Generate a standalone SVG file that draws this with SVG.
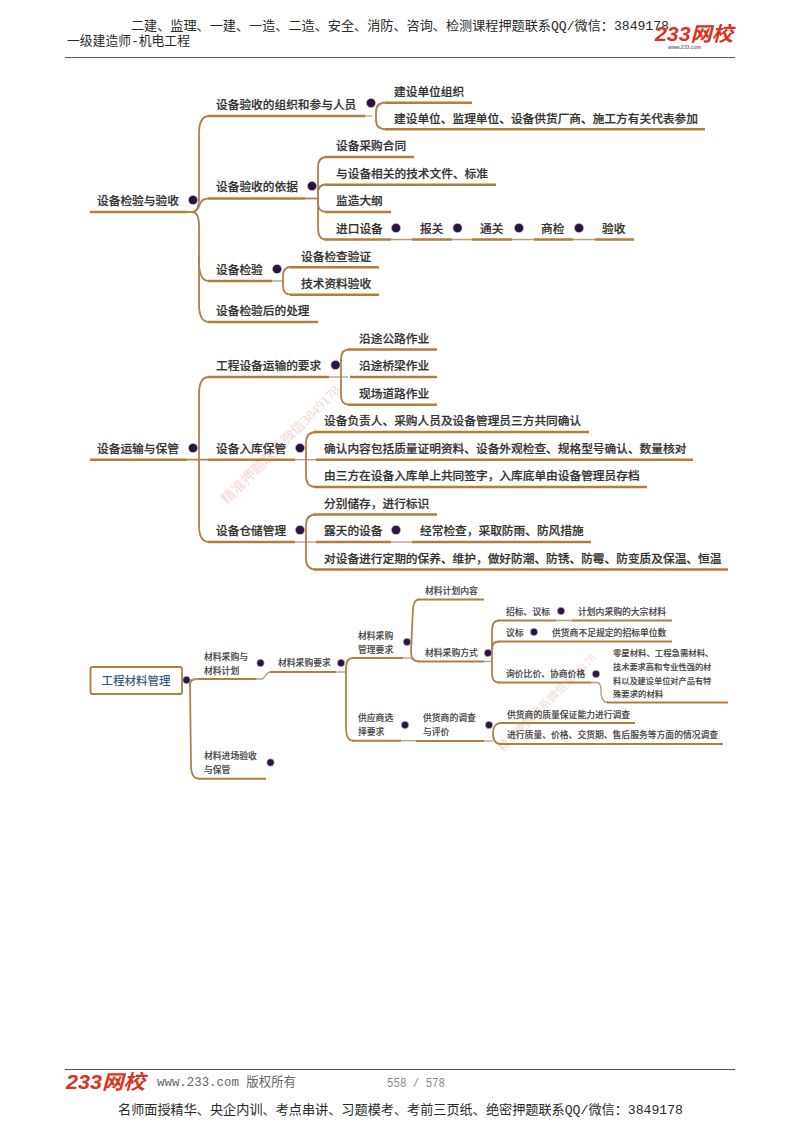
<svg xmlns="http://www.w3.org/2000/svg" width="800" height="1132" viewBox="0 0 800 1132">
<style>
text{font-family:"Noto Sans CJK SC","Liberation Sans",sans-serif;fill:#333}
.a text,text.a{font-size:11.7px;font-weight:500;stroke:#333;stroke-width:.22}
.s text,text.s{font-size:8.8px;font-weight:500;fill:#444;stroke:#444;stroke-width:.12}
.u{stroke:#b07f3e;stroke-width:2.6;fill:none}
.t{stroke:#b79a7c;stroke-width:1.3;fill:none}
.c{stroke:#ab8152;stroke-width:1.8;fill:none}
.us{stroke:#b07f3e;stroke-width:1.9;fill:none}
circle{fill:#2a1540;stroke:#c9c0cf;stroke-width:.6}
.a circle{r:4.6px}
.s circle{r:3.7px}
.hd{font-family:"Liberation Mono","Noto Sans CJK SC",monospace;font-size:13px;fill:#2a2a2a}
.wm{font-family:"Liberation Serif","Noto Sans CJK SC",serif;fill:#f3d9d4}
.logo{font-family:"Liberation Sans","Noto Sans CJK SC",sans-serif;font-weight:700;font-style:italic;font-size:20px;fill:#d8351f}
</style>
<rect width="800" height="1132" fill="#ffffff"/>

<g id="watermarks">
<text class="wm" font-size="14" transform="translate(227 505) rotate(-45)">精准押题联系微信3849178</text>
<text class="wm" font-size="11.5" transform="translate(503 752) rotate(-45)">精准押题联系微信3849178</text>
</g>

<g id="header">
<text class="hd" x="131" y="30" textLength="538" lengthAdjust="spacingAndGlyphs">二建、监理、一建、一造、二造、安全、消防、咨询、检测课程押题联系QQ/微信：3849178</text>
<text class="hd" x="67" y="45" textLength="123" lengthAdjust="spacingAndGlyphs">一级建造师-机电工程</text>
<line x1="65" y1="57.5" x2="735" y2="57.5" stroke="#555" stroke-width="1.2"/>
<text class="logo" x="655" y="41" textLength="78" lengthAdjust="spacingAndGlyphs">233网校</text>
<text x="668" y="49" font-size="5" font-style="italic" font-weight="700" style="fill:#777;font-family:'Liberation Sans',sans-serif">www.233.com</text>
</g>

<g id="connectors">
<path class="c" d="M187 212H192C197 212 199 207 199 198V134C199 122 202 116 209 116"/>
<path class="c" d="M187 212H192C197 212 199 207 200 204C201 201 203 198.500 209 198.500"/>
<path class="c" d="M192 212C197 212 199 217 199 226V262C199 274 202 281 209 281"/>
<path class="c" d="M199 255V304C199 316 202 322 209 322"/>
<path class="t" d="M365 116H372"/>
<path class="c" d="M386 102.500C379 102.500 376 106 376 112V120C376 126 379 129.300 386 129.300"/>
<path class="c" d="M305 198.500H318"/>
<path class="c" d="M326 157C320 157 318 161 318 168V228C318 235 320 239.500 326 239.500"/>
<path class="c" d="M326 184.500C320 184.500 318 188 318 193V203C318 208 320 212 326 212"/>
<path class="t" d="M391 239.500H412M452 239.500H472M512 239.500H534M573 239.500H595"/>
<path class="t" d="M272 281H283"/>
<path class="c" d="M291 267C285 267 283 271 283 276V286C283 291 285 294.700 291 294.700"/>

<path class="c" d="M187 459.700H199M199 459.700H208"/>
<path class="c" d="M209 377C202 377 199 383 199 394V525C199 536 202 542 209 542"/>
<path class="t" d="M329 377H348"/>
<path class="c" d="M349 349.500C343 349.500 341 353 341 359V395C341 401 343 404.700 349 404.700"/>
<path class="t" d="M295 459.700H316"/>
<path class="c" d="M316 432C309 432 306 436 306 443V476C306 483 309 487 316 487"/>
<path class="t" d="M295 542H316"/>
<path class="c" d="M316 514.500C309 514.500 306 518 306 525V559C306 566 309 569.500 316 569.500"/>
<path class="t" d="M391 542H412"/>

<path class="c" d="M182 680H190"/>
<path class="c" d="M198 679C193 679 190 680 190 684L191 765C191 774 194 778.700 199 778.700"/>
<path class="t" d="M190 680C193 679 195 679 198 679"/>
<path class="t" d="M256 679H262C265 679 265 672 271 672"/>
<path class="t" d="M336 672H346"/>
<path class="c" d="M353 658C348 658 346 662 346 668V727C346 736 348 740.700 353 740.700"/>
<path class="t" d="M403 658H412"/>
<path class="c" d="M419 599.500C415 599.500 414 603 413 608L411 652C411 658 414 661.500 419 661.500"/>
<path class="t" d="M484 661.500H492"/>
<path class="c" d="M499 620.500C494 620.500 492 624 492 630V674C492 679 494 682.500 499 682.500"/>
<path class="c" d="M499 641.500C495 641.500 492 644 492 649"/>
<path class="t" d="M556 620.500H572M591 682.500H597C600 682.500 601 686 601 691C601 698 603 702.500 608 702.500"/>
<path class="t" d="M401 740.700H416"/>
<path class="t" d="M484 741H493"/>
<path class="c" d="M501 723C496 723 493 727 493 733C493 740 496 744 501 744"/>
</g>

<g id="s1" class="a">
<g id="n1"><text x="97" y="205">设备检验与验收</text><line class="u" x1="90" y1="212" x2="187" y2="212"/><circle cx="193" cy="200" r="4.600"/></g>
<g id="n2"><text x="216" y="108.500">设备验收的组织和参与人员</text><line class="u" x1="208" y1="116" x2="365" y2="116"/><circle cx="371" cy="103" r="4.600"/></g>
<g id="n3"><text x="394" y="95.500">建设单位组织</text><line class="u" x1="385" y1="102.700" x2="472" y2="102.700"/></g>
<g id="n4"><text x="394" y="123">建设单位、监理单位、设备供货厂商、施工方有关代表参加</text><line class="u" x1="385" y1="129.300" x2="705" y2="129.300"/></g>
<g id="n5"><text x="216" y="191">设备验收的依据</text><line class="u" x1="208" y1="198.500" x2="305" y2="198.500"/><circle cx="312" cy="186" r="4.600"/></g>
<g id="n6"><text x="336" y="150">设备采购合同</text><line class="u" x1="325" y1="157" x2="414" y2="157"/></g>
<g id="n7"><text x="336" y="177.500">与设备相关的技术文件、标准</text><line class="u" x1="325" y1="184.700" x2="496" y2="184.700"/></g>
<g id="n8"><text x="336" y="205">监造大纲</text><line class="u" x1="325" y1="212" x2="391" y2="212"/></g>
<g id="n9"><text x="336" y="232.500">进口设备</text><line class="u" x1="325" y1="239.500" x2="391" y2="239.500"/><circle cx="396" cy="228" r="4.600"/></g>
<g id="n10"><text x="420" y="232.500">报关</text><line class="u" x1="412" y1="239.500" x2="452" y2="239.500"/><circle cx="457.500" cy="228" r="4.600"/></g>
<g id="n11"><text x="480" y="232.500">通关</text><line class="u" x1="472" y1="239.500" x2="512" y2="239.500"/><circle cx="519" cy="228" r="4.600"/></g>
<g id="n12"><text x="541" y="232.500">商检</text><line class="u" x1="534" y1="239.500" x2="573" y2="239.500"/><circle cx="579" cy="228" r="4.600"/></g>
<g id="n13"><text x="602" y="232.500">验收</text><line class="u" x1="595" y1="239.500" x2="634" y2="239.500"/></g>
<g id="n14"><text x="216" y="274">设备检验</text><line class="u" x1="208" y1="281" x2="272" y2="281"/><circle cx="277" cy="269" r="4.600"/></g>
<g id="n15"><text x="301" y="260.500">设备检查验证</text><line class="u" x1="290" y1="267.300" x2="379" y2="267.300"/></g>
<g id="n16"><text x="301" y="287.500">技术资料验收</text><line class="u" x1="290" y1="294.700" x2="379" y2="294.700"/></g>
<g id="n17"><text x="216" y="315">设备检验后的处理</text><line class="u" x1="208" y1="322" x2="318" y2="322"/></g>
</g>

<g id="s2" class="a">
<g id="n18"><text x="97" y="452.500">设备运输与保管</text><line class="u" x1="90" y1="459.700" x2="187" y2="459.700"/><circle cx="193" cy="448" r="4.600"/></g>
<g id="n19"><text x="216" y="370">工程设备运输的要求</text><line class="u" x1="208" y1="377" x2="329" y2="377"/><circle cx="335.500" cy="365" r="4.600"/></g>
<g id="n20"><text x="359" y="342.500">沿途公路作业</text><line class="u" x1="348" y1="349.500" x2="437" y2="349.500"/></g>
<g id="n21"><text x="359" y="370">沿途桥梁作业</text><line class="u" x1="350" y1="377" x2="437" y2="377"/></g>
<g id="n22"><text x="359" y="397.500">现场道路作业</text><line class="u" x1="348" y1="404.700" x2="437" y2="404.700"/></g>
<g id="n23"><text x="216" y="452.500">设备入库保管</text><line class="u" x1="208" y1="459.700" x2="295" y2="459.700"/><circle cx="300" cy="448" r="4.600"/></g>
<g id="n24"><text x="324" y="425">设备负责人、采购人员及设备管理员三方共同确认</text><line class="u" x1="314" y1="432" x2="589" y2="432"/></g>
<g id="n25"><text x="324" y="452.500">确认内容包括质量证明资料、设备外观检查、规格型号确认、数量核对</text><line class="u" x1="316" y1="459.700" x2="693" y2="459.700"/></g>
<g id="n26"><text x="324" y="480">由三方在设备入库单上共同签字，入库底单由设备管理员存档</text><line class="u" x1="314" y1="487" x2="647" y2="487"/></g>
<g id="n27"><text x="216" y="535">设备仓储管理</text><line class="u" x1="208" y1="542" x2="295" y2="542"/><circle cx="300" cy="530" r="4.600"/></g>
<g id="n28"><text x="324" y="507.500">分别储存，进行标识</text><line class="u" x1="314" y1="514.500" x2="437" y2="514.500"/></g>
<g id="n29"><text x="324" y="535">露天的设备</text><line class="u" x1="316" y1="542" x2="391" y2="542"/><circle cx="396" cy="530" r="4.600"/></g>
<g id="n30"><text x="420" y="535">经常检查，采取防雨、防风措施</text><line class="u" x1="412" y1="542" x2="591" y2="542"/></g>
<g id="n31"><text x="324" y="562.500">对设备进行定期的保养、维护，做好防潮、防锈、防霉、防变质及保温、恒温</text><line class="u" x1="314" y1="569.500" x2="728" y2="569.500"/></g>
</g>

<g id="s3" class="s">
<g id="n32"><rect x="90.500" y="667" width="91.500" height="27" rx="2" fill="#fff" stroke="#a98048" stroke-width="1.800"/><text x="136" y="685" text-anchor="middle" style="font-size:11.500px;fill:#3e5a86;stroke:none">工程材料管理</text><circle cx="186.500" cy="680" r="3.700"/></g>
<g id="n33"><text x="204" y="660">材料采购与</text><text x="204" y="674">材料计划</text><line class="us" x1="198" y1="679" x2="256" y2="679"/><circle cx="260.500" cy="663" r="3.700"/></g>
<g id="n34"><text x="278" y="666">材料采购要求</text><line class="us" x1="270" y1="672" x2="336" y2="672"/><circle cx="341" cy="663" r="3.700"/></g>
<g id="n35"><text x="204" y="759">材料进场验收</text><text x="204" y="773">与保管</text><line class="us" x1="198" y1="778.700" x2="266" y2="778.700"/><circle cx="270.500" cy="762.500" r="3.700"/></g>
<g id="n36"><text x="358" y="639">材料采购</text><text x="358" y="653">管理要求</text><line class="us" x1="352" y1="658" x2="403" y2="658"/><circle cx="407" cy="642" r="3.700"/></g>
<g id="n37"><text x="358" y="721">供应商选</text><text x="358" y="735">择要求</text><line class="us" x1="352" y1="740.700" x2="401" y2="740.700"/><circle cx="405" cy="725" r="3.700"/></g>
<g id="n38"><text x="425" y="594">材料计划内容</text><line class="us" x1="418" y1="599.500" x2="484" y2="599.500"/></g>
<g id="n39"><text x="425" y="655.500">材料采购方式</text><line class="us" x1="418" y1="661.500" x2="484" y2="661.500"/><circle cx="488" cy="653" r="3.700"/></g>
<g id="n40"><text x="506" y="615">招标、议标</text><line class="us" x1="498" y1="620.500" x2="556" y2="620.500"/><circle cx="561" cy="611" r="3.700"/></g>
<g id="n41"><text x="578" y="615">计划内采购的大宗材料</text><line class="us" x1="572" y1="620.500" x2="672" y2="620.500"/></g>
<g id="n42"><text x="506" y="636">议标</text><line class="us" x1="498" y1="641.500" x2="546" y2="641.500"/><circle cx="534" cy="632" r="3.700"/></g>
<g id="n43"><text x="552" y="636">供货商不足规定的招标单位数</text><line class="us" x1="546" y1="641.500" x2="672" y2="641.500"/></g>
<g id="n44"><text x="506" y="677">询价比价、协商价格</text><line class="us" x1="498" y1="682.500" x2="591" y2="682.500"/><circle cx="596" cy="674" r="3.700"/></g>
<g id="n45"><text x="613" y="656" style="font-size:8.400px">零星材料、工程急需材料、</text><text x="613" y="670" style="font-size:8.200px">技术要求高和专业性强的材</text><text x="613" y="684" style="font-size:8.200px">料以及建设单位对产品有特</text><text x="613" y="697" style="font-size:8.400px">殊要求的材料</text><line class="us" x1="607" y1="702.500" x2="728" y2="702.500"/></g>
<g id="n46"><text x="423" y="721">供货商的调查</text><text x="423" y="735">与评价</text><line class="us" x1="416" y1="741" x2="484" y2="741"/><circle cx="489" cy="725" r="3.700"/></g>
<g id="n47"><text x="507" y="718">供货商的质量保证能力进行调查</text><line class="us" x1="500" y1="723" x2="635" y2="723"/></g>
<g id="n48"><text x="507" y="738">进行质量、价格、交货期、售后服务等方面的情况调查</text><line class="us" x1="500" y1="744" x2="723" y2="744"/></g>
</g>

<g id="footer">
<line x1="65" y1="1069.500" x2="735" y2="1069.500" stroke="#555" stroke-width="1.200"/>
<text class="logo" x="66" y="1089" textLength="79" lengthAdjust="spacingAndGlyphs">233网校</text>
<text class="hd" x="157" y="1086" textLength="139" lengthAdjust="spacingAndGlyphs" style="fill:#666">www.233.com 版权所有</text>
<text class="hd" x="387" y="1087" textLength="58" lengthAdjust="spacingAndGlyphs" style="fill:#888;font-size:12px">558 / 578</text>
<text class="hd" x="118" y="1114" textLength="565" lengthAdjust="spacingAndGlyphs">名师面授精华、央企内训、考点串讲、习题模考、考前三页纸、绝密押题联系QQ/微信：3849178</text>
</g>
</svg>
